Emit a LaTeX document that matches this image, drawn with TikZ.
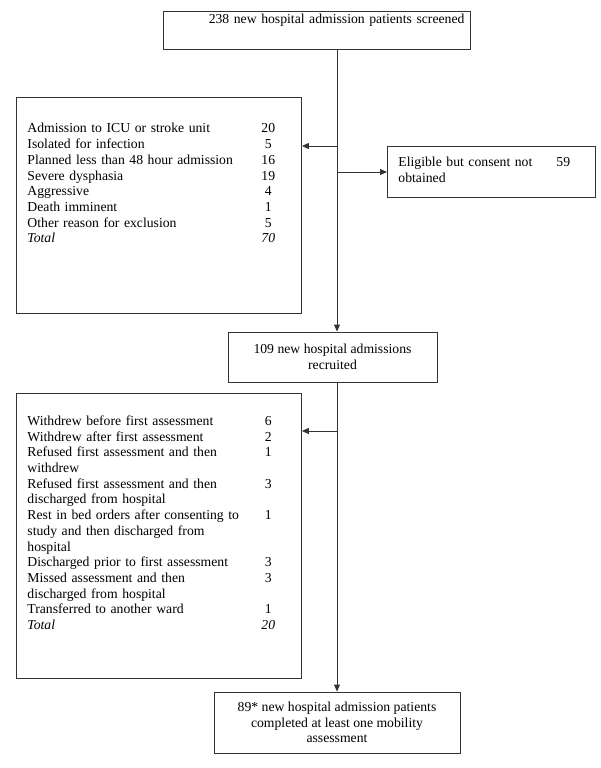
\documentclass[tikz,border=0pt]{standalone}
\usepackage{fontspec}
\setmainfont{Liberation Serif}
\usetikzlibrary{arrows.meta}
\begin{document}
\begin{tikzpicture}[x=1pt,y=-1pt]
        \tikzstyle{box}=[rectangle, draw=black!80, line width=0.9pt, inner sep=0pt, font=\fontsize{13.7}{15.7}\selectfont]
        \tikzstyle{listbox}=[box, anchor=north west, inner xsep=11pt, inner ysep=0pt, align=left]
        \tikzstyle{flow}=[black!80, line width=0.9pt, -{Triangle[length=7pt,width=6pt]}]
        \useasboundingbox (0,0) rectangle (600,768);
        \node[box, anchor=north west, inner xsep=6pt, text width=295pt, align=right, text height=12pt, text depth=26pt] (screen) at (163,11) {238 new hospital admission patients screened};
        \node[listbox, text width=263pt, text height=35.5pt, text depth=180.5pt] (excl) at (16,97) {%
            \begin{tabular}[t]{@{}p{234pt}@{}c@{}}
            Admission to ICU or stroke unit & 20\\
            Isolated for infection & 5\\
            Planned less than 48 hour admission & 16\\
            Severe dysphasia & 19\\
            Aggressive & 4\\
            Death imminent & 1\\
            Other reason for exclusion & 5\\
            \textit{Total} & \textit{70}
            \end{tabular}};
        \node[listbox, text width=186pt, text height=20pt, text depth=31pt] (elig) at (387,146) {%
            \begin{tabular}[t]{@{}p{158pt}@{}c@{}}
            Eligible but consent not & 59\\
            obtained &
            \end{tabular}};
        \node[box, minimum width=209pt, minimum height=50pt, align=center] (recr) at (332.5,357) {109 new hospital admissions\\recruited};
        \node[listbox, text width=263pt, text height=32pt, text depth=253pt] (drop) at (16,393) {%
            \begin{tabular}[t]{@{}p{234pt}@{}c@{}}
            Withdrew before first assessment & 6\\
            Withdrew after first assessment & 2\\
            Refused first assessment and then & 1\\
            withdrew & \\
            Refused first assessment and then & 3\\
            discharged from hospital & \\
            Rest in bed orders after consenting to & 1\\
            study and then discharged from & \\
            hospital & \\
            Discharged prior to first assessment & 3\\
            Missed assessment and then & 3\\
            discharged from hospital & \\
            Transferred to another ward & 1\\
            \textit{Total} & \textit{20}
            \end{tabular}};
        \node[box, minimum width=246pt, minimum height=61pt, align=center] (done) at (337,722.5) {89* new hospital admission patients\\completed at least one mobility\\assessment};
        % trunk and branches
        \coordinate (trunk) at (337,0);
        \coordinate (jexcl) at (337,146);
        \coordinate (jelig) at (337,172);
        \coordinate (jdrop) at (337,431);
        \draw [flow] (screen.south -| trunk) -- (recr.north -| trunk);
        \draw [flow] (jexcl) -- (jexcl -| excl.east);
        \draw [flow] (jelig) -- (jelig -| elig.west);
        \draw [flow] (recr.south -| trunk) -- (done.north -| trunk);
        \draw [flow] (jdrop) -- (jdrop -| drop.east);
    \end{tikzpicture}
\end{document}
